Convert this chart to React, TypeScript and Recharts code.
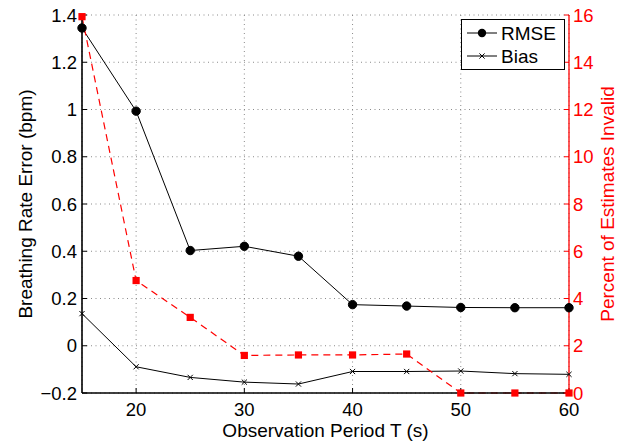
import React from 'react';
import { ComposedChart, Line, XAxis, YAxis, CartesianGrid, Legend } from 'recharts';

const periods = [15, 20, 25, 30, 35, 40, 45, 50, 55, 60];
const rmse = [1.345, 0.993, 0.403, 0.421, 0.379, 0.174, 0.168, 0.162, 0.161, 0.161];
const bias = [0.136, -0.089, -0.134, -0.154, -0.162, -0.109, -0.109, -0.107, -0.118, -0.121];
const invalidPct = [15.93, 4.76, 3.2, 1.59, 1.61, 1.61, 1.65, 0, 0, 0];

const xTicks = [20, 30, 40, 50, 60];
const leftTicks = [-0.2, 0, 0.2, 0.4, 0.6, 0.8, 1, 1.2, 1.4];
const rightTicks = [0, 2, 4, 6, 8, 10, 12, 14, 16];

const xLabel = 'Observation Period T (s)';
const leftLabel = 'Breathing Rate Error (bpm)';
const rightLabel = 'Percent of Estimates Invalid';
const seriesNames = { rmse: 'RMSE', bias: 'Bias' };

const data = periods.map((p, i) => ({ period: p, rmse: rmse[i], bias: bias[i], invalid: invalidPct[i] }));

const FONT = '"Liberation Sans", Arial, Helvetica, sans-serif';
const RED = '#ff0000';
const TICK_FS = 18.5;

const fmtLeft = (v: number) => {
  const r = Math.round(v * 10) / 10;
  if (r === 0) return '0';
  const s = String(Math.abs(r));
  return r < 0 ? '\u2212' + s : s;
};

const CircleDot = (props: any) => {
  const { cx, cy, index } = props;
  if (cx == null || cy == null) return <g key={`c-${index}`} />;
  return <circle key={`c-${index}`} cx={cx} cy={cy} r={4.2} fill="#000" stroke="#000" />;
};

const CrossDot = (props: any) => {
  const { cx, cy, index } = props;
  if (cx == null || cy == null) return <g key={`x-${index}`} />;
  const s = 2.6;
  return (
    <path
      key={`x-${index}`}
      d={`M${cx - s},${cy - s}L${cx + s},${cy + s}M${cx - s},${cy + s}L${cx + s},${cy - s}`}
      stroke="#000"
      strokeWidth={1}
      fill="none"
    />
  );
};

const SquareDot = (props: any) => {
  const { cx, cy, index } = props;
  if (cx == null || cy == null) return <g key={`s-${index}`} />;
  const h = 3.6;
  return <rect key={`s-${index}`} x={cx - h} y={cy - h} width={h * 2} height={h * 2} fill={RED} />;
};

const LegendContent = () => (
  <div
    style={{
      width: 104,
      height: 51,
      boxSizing: 'border-box',
      border: '1px solid #000',
      background: '#fff',
      fontFamily: FONT,
      fontSize: 19,
      color: '#000',
      position: 'relative',
    }}
  >
    <svg width={104} height={51} style={{ position: 'absolute', left: -1, top: -1 }}>
      <line x1={6} x2={36} y1={14} y2={14} stroke="#000" strokeWidth={1} />
      <circle cx={21} cy={14} r={4.2} fill="#000" />
      <text x={40} y={14} dy="0.36em" fontFamily={FONT} fontSize={19} fill="#000">{seriesNames.rmse}</text>
      <line x1={6} x2={36} y1={37} y2={37} stroke="#000" strokeWidth={1} />
      <path d="M18.4,34.4L23.6,39.6M18.4,39.6L23.6,34.4" stroke="#000" strokeWidth={1} />
      <text x={40} y={37} dy="0.36em" fontFamily={FONT} fontSize={19} fill="#000">{seriesNames.bias}</text>
    </svg>
  </div>
);

const leftAxisLabel = (props: any) => {
  const vb = props.viewBox || {};
  const x = vb.x + 25;
  const y = vb.y + vb.height / 2;
  return (
    <text x={x} y={y} transform={`rotate(-90, ${x}, ${y})`} textAnchor="middle" dominantBaseline="central" fontFamily={FONT} fontSize={19} fill="#000">
      {leftLabel}
    </text>
  );
};

const rightAxisLabel = (props: any) => {
  const vb = props.viewBox || {};
  const x = vb.x + 38;
  const y = vb.y + vb.height / 2;
  return (
    <text x={x} y={y} transform={`rotate(-90, ${x}, ${y})`} textAnchor="middle" dominantBaseline="central" fontFamily={FONT} fontSize={19} fill={RED}>
      {rightLabel}
    </text>
  );
};

const bottomAxisLabel = (props: any) => {
  const vb = props.viewBox || {};
  const x = vb.x + vb.width / 2;
  const y = vb.y + 37;
  return (
    <text x={x} y={y} textAnchor="middle" dominantBaseline="central" fontFamily={FONT} fontSize={19} fill="#000">
      {xLabel}
    </text>
  );
};

export default function App() {
  return (
    <div style={{ position: 'fixed', left: 0, top: 0, width: 630, height: 443, background: '#fff' }}>
      <ComposedChart width={630} height={443} data={data} margin={{ top: 15, right: 0, bottom: 0, left: 0 }}>
        <CartesianGrid
          xAxisId="bottom"
          yAxisId="left"
          stroke="#8a8a8a"
          strokeDasharray="1 3.5"
          strokeWidth={1}
          fill="none"
        />
        <XAxis
          xAxisId="top"
          orientation="top"
          dataKey="period"
          type="number"
          domain={[15, 60]}
          ticks={xTicks}
          height={0}
          tick={false}
          tickSize={-5}
          axisLine={{ stroke: '#000', strokeWidth: 1.5 }}
          tickLine={{ stroke: '#000' }}
        />
        <XAxis
          xAxisId="bottom"
          orientation="bottom"
          dataKey="period"
          type="number"
          domain={[15, 60]}
          ticks={xTicks}
          height={50}
          tickSize={-5}
          tickMargin={15}
          axisLine={{ stroke: '#000', strokeWidth: 1.6 }}
          tickLine={{ stroke: '#000' }}
          tick={{ fill: '#000', fontSize: TICK_FS, fontFamily: FONT }}
          label={{ content: bottomAxisLabel }}
        />
        <YAxis
          yAxisId="left"
          orientation="left"
          type="number"
          domain={[-0.2, 1.4]}
          ticks={leftTicks}
          width={82}
          tickSize={-5}
          tickMargin={10}
          tickFormatter={fmtLeft}
          axisLine={{ stroke: '#000', strokeWidth: 1.6 }}
          tickLine={{ stroke: '#000' }}
          tick={{ fill: '#000', fontSize: TICK_FS, fontFamily: FONT }}
          label={{ content: leftAxisLabel }}
          interval={0}
        />
        <YAxis
          yAxisId="right"
          orientation="right"
          type="number"
          domain={[0, 16]}
          ticks={rightTicks}
          width={61}
          tickSize={-5}
          tickMargin={9}
          axisLine={{ stroke: RED, strokeWidth: 1.3 }}
          tickLine={{ stroke: RED }}
          tick={{ fill: RED, fontSize: TICK_FS, fontFamily: FONT }}
          label={{ content: rightAxisLabel }}
          interval={0}
        />
        <Line
          xAxisId="bottom"
          yAxisId="left"
          type="linear"
          dataKey="rmse"
          name={seriesNames.rmse}
          stroke="#000"
          strokeWidth={1}
          dot={CircleDot}
          activeDot={false}
          isAnimationActive={false}
        />
        <Line
          xAxisId="bottom"
          yAxisId="left"
          type="linear"
          dataKey="bias"
          name={seriesNames.bias}
          stroke="#000"
          strokeWidth={1}
          dot={CrossDot}
          activeDot={false}
          isAnimationActive={false}
        />
        <Line
          xAxisId="bottom"
          yAxisId="right"
          type="linear"
          dataKey="invalid"
          name="Invalid"
          stroke={RED}
          strokeWidth={1.2}
          strokeDasharray="7 5"
          dot={SquareDot}
          activeDot={false}
          isAnimationActive={false}
        />
        <Legend
          layout="vertical"
          align="center"
          verticalAlign="middle"
          content={LegendContent}
          wrapperStyle={{ top: 19, left: 461, width: 104, height: 51 }}
        />
      </ComposedChart>
    </div>
  );
}
